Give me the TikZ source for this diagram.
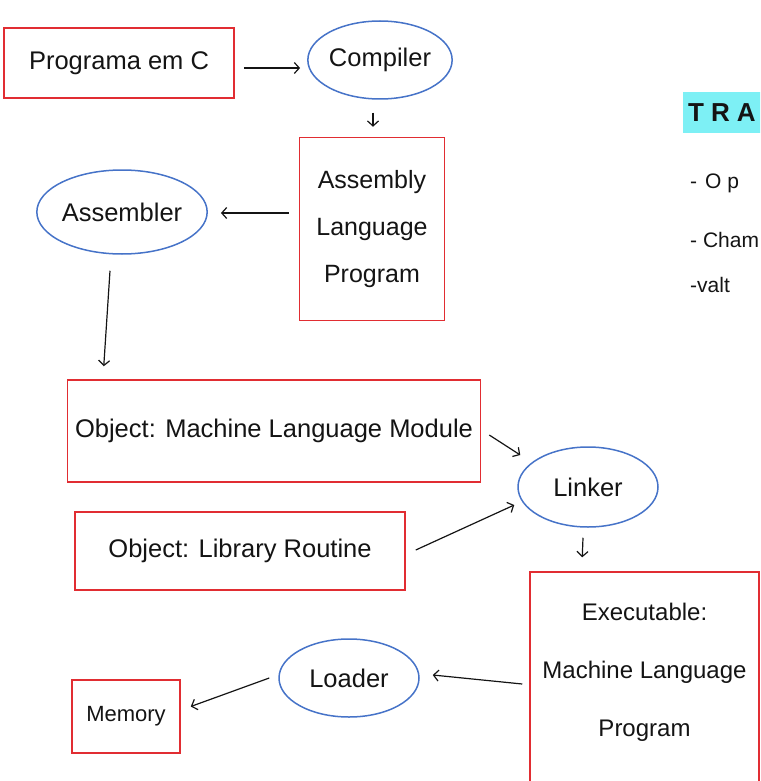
\documentclass[tikz,border=0pt]{standalone}
\usepackage{fontspec}
\setmainfont{Liberation Sans}
\usetikzlibrary{arrows.meta, shapes.geometric}
\definecolor{BoxRed}{RGB}{225, 45, 50}
\definecolor{EllBlue}{RGB}{70, 115, 200}
\definecolor{HlCyan}{RGB}{125, 240, 245}
\definecolor{InkBlack}{RGB}{20, 20, 20}

\begin{document}
\begin{tikzpicture}[x=1pt, y=-1pt,
  redbox/.style={draw=BoxRed, line width=1.5pt, align=center, inner sep=0pt},
  blueell/.style={draw=EllBlue, line width=1.5pt, ellipse, inner sep=0pt},
  flow/.style={-{Straight Barb[length=5pt, width=11pt]}, line width=1.2pt, InkBlack},
  hand/.style={font=\fontsize{25.5}{30}\selectfont, text=InkBlack},
  note/.style={font=\fontsize{21}{26}\selectfont, text=InkBlack, anchor=west, inner xsep=0pt}]
  \clip (0,0) rectangle (760,781);

  % compile chain
  \node[redbox, hand, minimum width=230pt, minimum height=70pt] (progc) at (119,63) {Programa em C};
  \node[blueell, hand, minimum width=140pt, minimum height=78pt] (compiler) at (380,60) {Compiler};
  \node[redbox, hand, font=\fontsize{25}{47}\selectfont, minimum width=145pt, minimum height=183pt] (asmprog) at (372,229) {Assembly\\Language\\Program};
  \node[blueell, hand, minimum width=140pt, minimum height=84pt] (assembler) at (122,212) {Assembler};

  % link stage
  \node[redbox, hand, minimum width=413pt, minimum height=102pt] (objmodule) at (274,431) {Object: Machine Language Module};
  \node[redbox, hand, minimum width=330pt, minimum height=78pt] (objlib) at (240,551) {Object: Library Routine};
  \node[blueell, hand, minimum width=140pt, minimum height=80pt] (linker) at (588,487) {Linker};

  % load stage
  \node[redbox, hand, font=\fontsize{24}{58}\selectfont, text depth=33pt, minimum width=229pt, minimum height=228pt] (executable) at (644.5,686) {Executable:\\Machine Language\\Program};
  \node[blueell, hand, minimum width=140pt, minimum height=78pt] (loader) at (349,678) {Loader};
  \node[redbox, hand, font=\fontsize{22}{26}\selectfont, minimum width=108pt, minimum height=73pt] (memory) at (126,716.5) {Memory};

  % connectors
  \draw[flow] ([shift={(9,5)}]progc.east) -- ([shift={(-7,8)}]compiler.west);
  \draw[flow] ([shift={(-7,13)}]compiler.south) -- ([shift={(1,-10)}]asmprog.north);
  \draw[flow] ([shift={(-10,-16)}]asmprog.west) -- ([shift={(13,1)}]assembler.east);
  \draw[flow] ([shift={(-12,16)}]assembler.south) -- ([shift={(37,-13)}]objmodule.north west);
  \draw[flow] ([shift={(8,4)}]objmodule.east) -- ([shift={(3,-32)}]linker.west);
  \draw[flow] ([shift={(10,-1)}]objlib.east) -- ([shift={(-3,18)}]linker.west);
  \draw[flow] ([shift={(-5,10)}]linker.south) -- ([shift={(53,-14)}]executable.north west);
  \draw[flow] ([shift={(-7,-2)}]executable.west) -- ([shift={(13,-3)}]loader.east);
  \draw[flow] ([shift={(-9,0)}]loader.west) -- ([shift={(10,-10)}]memory.east);

  % notes on the right
  \node[fill=HlCyan, anchor=west, font=\fontsize{26}{30}\selectfont\bfseries, text=InkBlack, text width=90pt, align=left, inner xsep=5pt, minimum height=41pt] (notetitle) at (683,112.5) {T\hspace{7pt}R\hspace{7pt}A};
  \node[note] (noteone) at (690,183) {-\hspace{8pt}O p};
  \node[note] (notetwo) at (690,240) {- Cham};
  \node[note] (notethree) at (690,285) {-valt};
\end{tikzpicture}
\end{document}
